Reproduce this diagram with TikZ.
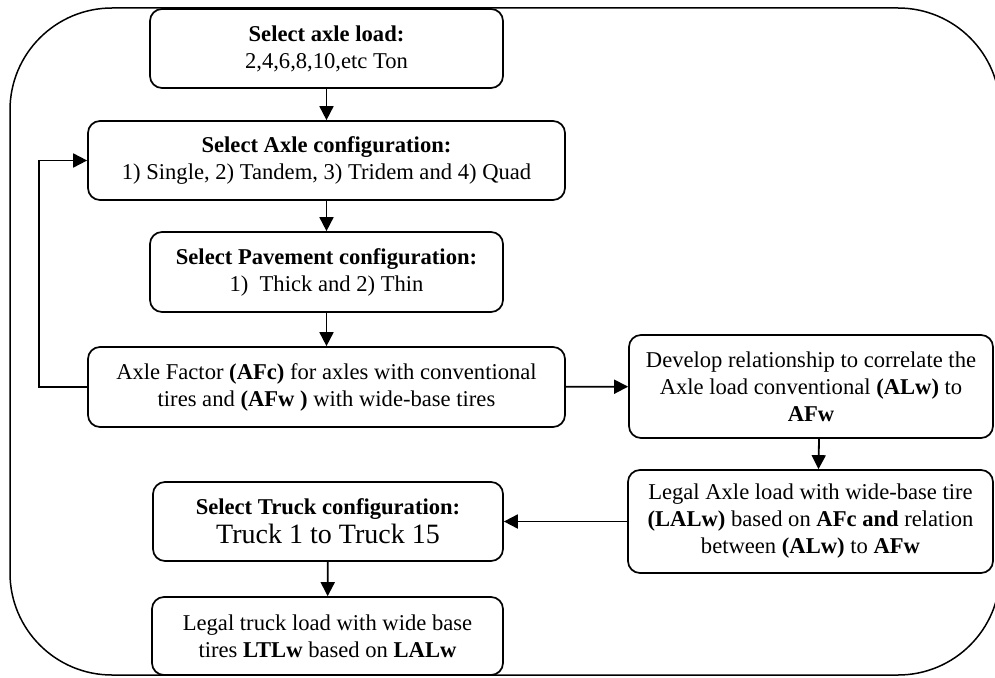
\documentclass[tikz,border=0pt]{standalone}
\usepackage{fontspec}
\setmainfont{Liberation Serif}
\usetikzlibrary{arrows.meta,calc}
\begin{document}
\begin{tikzpicture}[x=1pt,y=-1pt,
  stepbox/.style={draw,line width=1.7pt,rounded corners=12pt,align=center,
    inner sep=0pt,font=\fontsize{22.6}{27}\selectfont},
  arr/.style={line width=1.8pt,-{Triangle[length=14pt,width=14pt]}},
  frame/.style={line width=1.5pt,rounded corners=102pt}]
\useasboundingbox (0,0) rectangle (995,677);
\clip (0,0) rectangle (995,677);
\draw[frame] (10,8) rectangle (1000,675);
\node[stepbox,minimum width=353pt,minimum height=79pt] (b1) at (326.5,48.5)
  {\textbf{Select axle load:}\\2,4,6,8,10,etc Ton};
\node[stepbox,minimum width=477pt,minimum height=79pt] (b2) at (326.5,160.5)
  {\textbf{Select Axle configuration:}\\1) Single, 2) Tandem, 3) Tridem and 4) Quad};
\node[stepbox,minimum width=353pt,minimum height=80pt] (b3) at (326.5,272)
  {\textbf{Select Pavement configuration:}\\1)\ \ Thick and 2) Thin};
\node[stepbox,minimum width=477pt,minimum height=80pt] (b4) at (326.5,387)
  {Axle Factor \textbf{(AFc)} for axles with conventional\\tires and \textbf{(AFw )} with wide-base tires};
\node[stepbox,minimum width=364pt,minimum height=103pt] (b5) at (811,386.5)
  {Develop relationship to correlate the\\Axle load conventional \textbf{(ALw)} to\\\textbf{AFw}};
\node[stepbox,minimum width=365pt,minimum height=103pt] (b6) at (810.5,521.5)
  {Legal Axle load with wide-base tire\\\textbf{(LALw)} based on \textbf{AFc and} relation\\between \textbf{(ALw)} to \textbf{AFw}};
\node[stepbox,minimum width=350pt,minimum height=79pt] (b7) at (328,521.5)
  {\textbf{Select Truck configuration:}\\[2pt]{\fontsize{28}{30}\selectfont Truck 1 to Truck 15}};
\node[stepbox,minimum width=351pt,minimum height=78pt] (b8) at (327.5,636)
  {Legal truck load with wide base\\tires \textbf{LTLw} based on \textbf{LALw}};
\draw[arr] (b1) -- (b2);
\draw[arr] (b2) -- (b3);
\draw[arr] (b3) -- (b4);
\draw[arr] (b4.west) -- ++(-48,0) |- (b2.west);
\draw[arr] (b4) -- (b5);
\draw[arr] ($(b5.south)+(8,0)$) -- ($(b6.north)+(8,0)$);
\draw[arr] (b6) -- (b7);
\draw[arr] (b7) -- (b8);
\end{tikzpicture}
\end{document}
